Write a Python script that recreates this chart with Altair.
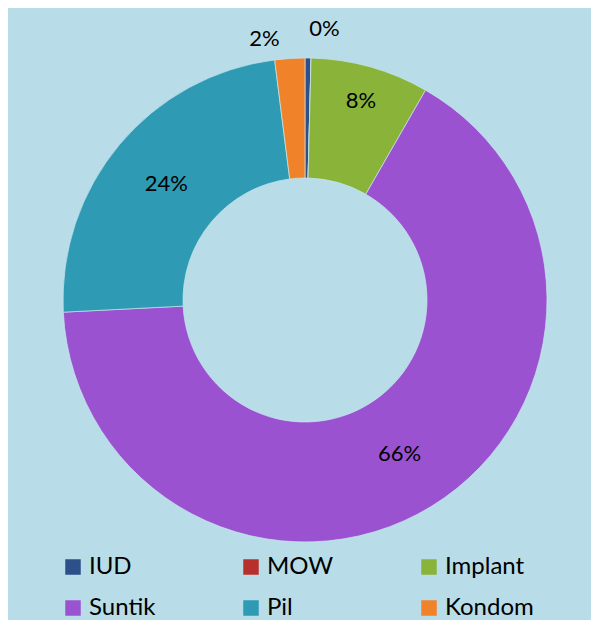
import altair as alt
import pandas as pd

# Data (percent of users per contraceptive method)
categories = ["IUD", "MOW", "Implant", "Suntik", "Pil", "Kondom"]
values = [0.4, 0.0, 7.9, 65.9, 23.8, 2.0]
colors = ["#2d4f8a", "#b8302c", "#8ab33a", "#9b52d0", "#2e9ab4", "#f0822a"]

FONT = "Lato"
BG = "#b8dde8"

df = pd.DataFrame({"kategori": categories, "nilai": values, "urut": list(range(len(categories)))})

theta_scale = alt.Scale(domain=[0, 100])

color = alt.Color(
    "kategori:N",
    sort=categories,
    scale=alt.Scale(domain=categories, range=colors),
    legend=alt.Legend(
        title=None,
        orient="none",
        legendX=42,
        legendY=547,
        direction="horizontal",
        columns=3,
        columnPadding=83,
        rowPadding=17,
        symbolType="square",
        symbolSize=240,
        symbolStrokeWidth=0,
        labelFont=FONT,
        labelFontSize=24,
        labelColor="#000000",
        labelOffset=4,
    ),
)

arcs = alt.Chart(df).mark_arc(
    outerRadius=242, innerRadius=122, stroke="#c9e6ee", strokeWidth=0.7
).encode(
    theta=alt.Theta("nilai:Q", stack=True, scale=theta_scale),
    order=alt.Order("urut:Q"),
    color=color,
)

txt = alt.Chart(df).transform_window(
    cum="sum(nilai)", sort=[alt.SortField("urut")], frame=[None, 0]
).transform_calculate(
    mid="datum.cum - datum.nilai / 2",
    label="round(datum.nilai) + '%'",
)


def label_layer(cat, r, dx=0, dy=0):
    return txt.transform_filter(alt.datum.kategori == cat).mark_text(
        radius=r, dx=dx, dy=dy, font=FONT, fontSize=22, color="#000000"
    ).encode(
        theta=alt.Theta("mid:Q", stack=None, scale=theta_scale),
        text="label:N",
    )


chart = alt.layer(
    arcs,
    label_layer("Suntik", 181),
    label_layer("Pil", 181),
    label_layer("Implant", 207),
    label_layer("IUD", 271, dx=16),
    label_layer("Kondom", 262, dx=-24),
).properties(
    width=572,
    height=584,
    background=BG,
    padding={"left": 11, "top": 0, "right": 0, "bottom": 28},
    autosize=alt.AutoSizeParams(type="none"),
).configure_view(stroke=None)

chart.save("out.html", embed_options={"renderer": "svg", "actions": False})
